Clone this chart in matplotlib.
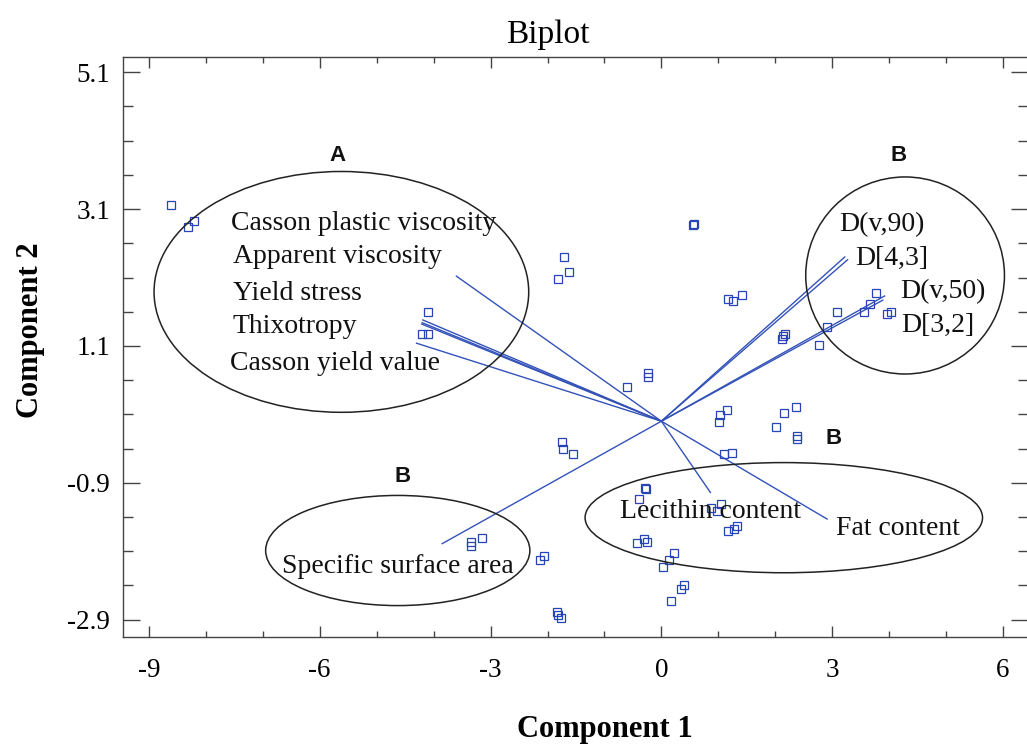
import numpy as np
import matplotlib.pyplot as plt
from matplotlib.patches import Ellipse
from matplotlib.ticker import MultipleLocator, FixedLocator

plt.rcParams['font.family'] = ['Liberation Serif', 'DejaVu Serif']

# observation scores (component 1, component 2)
pc1 = [-8.62, -8.31, -8.21, -4.09, -4.21, -4.09, -1.82, 0.55, 0.57, -1.71,
       -1.62, 1.17, 1.26, 1.41, 3.77, 3.67, 3.56, 3.08, 2.91, 2.77,
       3.97, 4.04, 2.11, 2.17, 2.13, -0.61, -0.23, -0.23, 1.16, 1.03,
       1.02, 2.36, 2.16, 2.02, 2.38, 2.38, -1.75, -1.72, -1.55, 1.10,
       1.24, -0.28, -0.27, -0.39, 1.04, 0.88, 0.97, 1.32, 1.28, 1.17,
       -0.30, -0.26, -0.42, 0.22, 0.13, 0.02, 0.40, 0.35, 0.17, -1.84,
       -1.77, -1.81, -2.06, -2.13, -3.35, -3.35, -3.15]
pc2 = [3.16, 2.84, 2.93, 1.60, 1.27, 1.27, 2.08, 2.87, 2.88, 2.40,
       2.18, 1.78, 1.76, 1.84, 1.87, 1.71, 1.59, 1.60, 1.38, 1.11,
       1.57, 1.59, 1.20, 1.27, 1.24, 0.50, 0.70, 0.64, 0.16, 0.09,
       -0.01, 0.21, 0.12, -0.08, -0.22, -0.26, -0.30, -0.41, -0.48, -0.48,
       -0.47, -0.97, -0.99, -1.14, -1.21, -1.27, -1.31, -1.53, -1.57, -1.60,
       -1.72, -1.76, -1.78, -1.93, -2.03, -2.13, -2.39, -2.45, -2.63, -2.79,
       -2.87, -2.83, -1.97, -2.03, -1.76, -1.83, -1.71]

# variable loadings (end points of the vectors)
var_names = ['Casson plastic viscosity', 'Apparent viscosity', 'Yield stress',
             'Thixotropy', 'Casson yield value', 'D(v,90)', 'D[4,3]',
             'D(v,50)', 'D[3,2]', 'Lecithin content', 'Fat content',
             'Specific surface area']
load1 = [-3.60, -4.19, -4.20, -4.21, -4.30, 3.22, 3.27, 3.92, 3.89, 0.86, 2.91, -3.85]
load2 = [2.12, 1.48, 1.44, 1.42, 1.14, 2.40, 2.36, 1.83, 1.77, -1.04, -1.43, -1.79]

# where each variable name is written (left edge, vertical centre)
label_pos = [(-7.56, 2.89), (-7.53, 2.41), (-7.53, 1.87), (-7.53, 1.38),
             (-7.58, 0.85), (3.12, 2.87), (3.41, 2.38), (4.20, 1.89),
             (4.21, 1.40), (-0.72, -1.32), (3.06, -1.57), (-6.66, -2.13)]

blue = '#2743b5'

fig = plt.figure(figsize=(10.27, 7.44), dpi=100)
ax = fig.add_axes([0.1195, 0.1442, 0.881, 0.7798])

for lx, ly in zip(load1, load2):
    ax.plot([0, lx], [0, ly], color='#3352b8', lw=1.0, zorder=2)

ax.plot(pc1, pc2, 's', ms=5.5, mfc='none', mec=blue, mew=0.9, zorder=3)

for name, (tx, ty) in zip(var_names, label_pos):
    ax.text(tx, ty, name, fontsize=20, ha='left', va='center', color='#111111', zorder=4)

# group ellipses
ellipses = [(-5.62, 1.89, 6.58, 3.52), (4.28, 2.13, 3.49, 2.88),
            (-4.63, -1.89, 4.64, 1.61), (2.15, -1.41, 6.98, 1.61)]
for cx, cy, w, h in ellipses:
    ax.add_patch(Ellipse((cx, cy), w, h, fill=False, ec='#222222', lw=1.1, zorder=4))

groups = [('A', -5.69, 3.89), ('B', 4.16, 3.89), ('B', 3.02, -0.25), ('B', -4.54, -0.81)]
for g, gx, gy in groups:
    ax.text(gx, gy, g, fontsize=16, fontweight='bold', family='Liberation Sans',
            ha='center', va='center', color='#111111')

ax.set_xlim(-9.46, 6.43)
ax.set_ylim(-3.15, 5.33)
ax.xaxis.set_major_locator(FixedLocator([-9, -6, -3, 0, 3, 6]))
ax.xaxis.set_minor_locator(MultipleLocator(1))
ax.yaxis.set_major_locator(FixedLocator([-2.9, -0.9, 1.1, 3.1, 5.1]))
ax.yaxis.set_minor_locator(FixedLocator(np.arange(-2.9, 5.2, 0.5)))
ax.set_xticklabels(['-9', '-6', '-3', '0', '3', '6'])
ax.set_yticklabels(['-2.9', '-0.9', '1.1', '3.1', '5.1'])

ax.tick_params(axis='both', which='both', direction='in', top=True, right=True,
               color='#444444', labelsize=19.5, width=1.0)
ax.tick_params(axis='x', which='major', length=8, pad=15)
ax.tick_params(axis='x', which='minor', length=4.5)
ax.tick_params(axis='y', which='major', length=12, pad=9)
ax.tick_params(axis='y', which='minor', length=7)
for s in ax.spines.values():
    s.set_color('#444444')
    s.set_linewidth(1.0)

fig.text(548 / 1027, 1 - 43 / 744, 'Biplot', fontsize=24, ha='center', va='baseline')
fig.text(605 / 1027, 1 - 737 / 744, 'Component 1', fontsize=22, fontweight='bold',
         ha='center', va='baseline')
fig.text(31 / 1027, 1 - 330 / 744, 'Component 2', fontsize=22, fontweight='bold',
         rotation=90, ha='center', va='center')

fig.savefig('out.png', dpi=100)
